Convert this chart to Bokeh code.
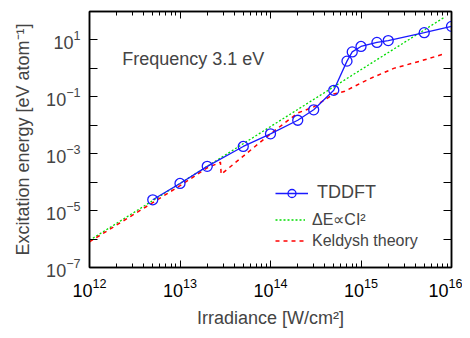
from bokeh.plotting import figure
from bokeh.models import (LogAxis, FixedTicker, LogTickFormatter, CustomJSTickFormatter,
                          Legend, LegendItem, Label)
from bokeh.embed import file_html
from bokeh.resources import INLINE

# ---- data ----
tddft_I = [5e12, 1e13, 2e13, 5e13, 1e14, 2e14, 3e14, 5e14, 7e14, 8e14, 1e15, 1.5e15, 2e15, 5e15, 1e16]
tddft_E = [2.4e-5, 9e-5, 3.6e-4, 1.8e-3, 5e-3, 1.5e-2, 3.5e-2, 0.17, 1.8, 3.8, 5.9, 8.2, 9.5, 18, 30]

fit_I = [1e12, 8.5e15]
fit_E = [9e-7, 65]

keldysh_I = [1e12, 1e13, 2e13, 2.8e13, 2.85e13, 1e14, 2e14, 3e14, 5e14, 6.5e14, 1.2e15, 2.3e15, 4.5e15, 8.2e15]
keldysh_E = [8e-7, 7.5e-5, 3.2e-4, 5e-4, 1.9e-4, 5e-3, 2.7e-2, 4.4e-2, 0.126, 0.153, 0.41, 1.0, 1.8, 3.2]

x_major = [1e12, 1e13, 1e14, 1e15, 1e16]
x_minor = [m * 10.0 ** e for e in range(12, 16) for m in range(2, 10)]
y_labeled = [1e-7, 1e-5, 1e-3, 1e-1, 1e1]
y_unlabeled = [1e-6, 1e-4, 1e-2, 1e0]
y_all = [10.0 ** e for e in range(-7, 3)]

FONT = "Liberation Sans"

p = figure(width=462, height=330, x_axis_type="log", y_axis_type="log",
           x_range=(1e12, 1e16), y_range=(1e-7, 1e2),
           output_backend="svg", toolbar_location=None)
p.min_border_left = 89
p.min_border_right = 11
p.min_border_top = 11
p.min_border_bottom = 61
p.grid.visible = False
p.outline_line_color = "black"
p.outline_line_width = 1.5
p.background_fill_color = "white"
p.border_fill_color = "white"

# bottom axis
xa = p.xaxis[0]
xa.ticker = FixedTicker(ticks=x_major, minor_ticks=x_minor)
xa.formatter = LogTickFormatter()
xa.major_tick_in = 7
xa.major_tick_out = 0
xa.minor_tick_in = 4
xa.minor_tick_out = 0
xa.axis_line_width = 1.5
xa.major_label_text_font = FONT
xa.major_label_text_font_size = "18px"
xa.major_label_text_color = "black"
xa.major_label_standoff = 10
xa.axis_label = "Irradiance [W/cm²]"
xa.axis_label_text_font = FONT
xa.axis_label_text_font_size = "18px"
xa.axis_label_text_font_style = "normal"
xa.axis_label_standoff = 8

# left axis
ya = p.yaxis[0]
ya.ticker = FixedTicker(ticks=y_labeled, minor_ticks=y_unlabeled)
ya.formatter = LogTickFormatter()
ya.major_tick_in = 8
ya.major_tick_out = 0
ya.minor_tick_in = 8
ya.minor_tick_out = 0
ya.axis_line_width = 1.5
ya.major_label_text_font = FONT
ya.major_label_text_font_size = "18px"
ya.major_label_standoff = 9
ya.axis_label = "Excitation energy [eV atom⁻¹]"
ya.axis_label_text_font = FONT
ya.axis_label_text_font_size = "18px"
ya.axis_label_text_font_style = "normal"
ya.axis_label_standoff = 10

# top axis (ticks only)
top = LogAxis(ticker=FixedTicker(ticks=x_major, minor_ticks=x_minor),
              formatter=CustomJSTickFormatter(code="return ''"))
top.major_tick_in = 7
top.major_tick_out = 0
top.minor_tick_in = 4
top.minor_tick_out = 0
top.axis_line_width = 1.5
top.major_label_text_font_size = "1px"
top.major_label_standoff = 0
p.add_layout(top, "above")

# right axis (ticks only)
right = LogAxis(ticker=FixedTicker(ticks=[], minor_ticks=y_all))
right.minor_tick_in = 8
right.minor_tick_out = 0
right.major_tick_in = 0
right.major_tick_out = 0
right.axis_line_width = 1.5
right.major_label_text_font_size = "1px"
right.major_label_standoff = 0
p.add_layout(right, "right")

# data
g = p.line(fit_I, fit_E, line_color="#00dd00", line_width=1.3, line_dash="2 2")
r = p.line(keldysh_I, keldysh_E, line_color="#ff0000", line_width=1.5, line_dash="4 4")
bl = p.line(tddft_I, tddft_E, line_color="#1a1aff", line_width=1.3)
bc = p.scatter(tddft_I, tddft_E, marker="circle", size=10, fill_color=None,
               line_color="#1a1aff", line_width=1.3)

lg1 = Legend(items=[LegendItem(label="TDDFT", renderers=[bl, bc])],
             location=(186, 64), padding=0, margin=0, spacing=0,
             border_line_color=None, background_fill_alpha=0,
             glyph_width=33, glyph_height=20, label_height=20, label_standoff=9,
             label_text_font=FONT, label_text_font_size="18px")
lg2 = Legend(items=[LegendItem(label="ΔE∝CI²", renderers=[g]),
                    LegendItem(label="Keldysh theory", renderers=[r])],
             location=(186, 16), padding=0, margin=0, spacing=0,
             border_line_color=None, background_fill_alpha=0,
             glyph_width=30, glyph_height=21, label_height=21, label_standoff=7,
             label_text_font=FONT, label_text_font_size="16px")
p.add_layout(lg1, "center")
p.add_layout(lg2, "center")

p.add_layout(Label(x=2.3e12, y=2.07, text="Frequency 3.1 eV", text_font=FONT,
                   text_font_size="18px", text_baseline="alphabetic"))

open("out.html", "w").write(file_html(p, INLINE))
